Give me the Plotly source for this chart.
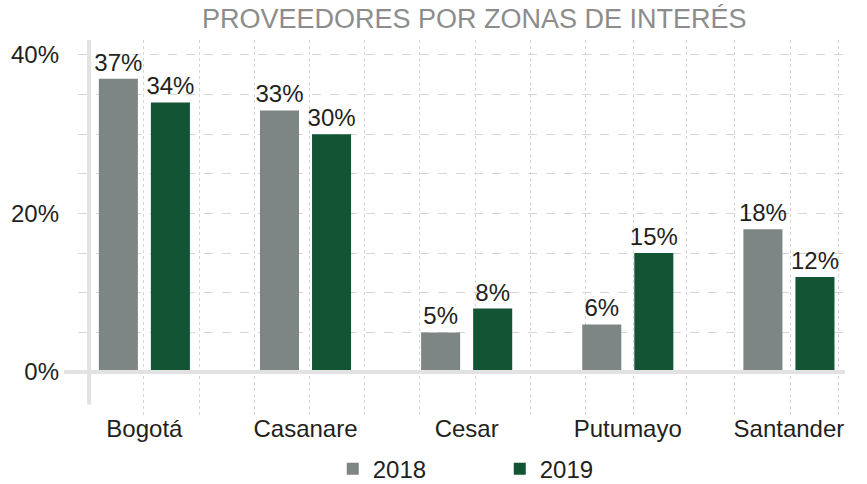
import plotly.graph_objects as go

# Share of suppliers per zone of interest, by year (%)
zonas = ["Bogotá", "Casanare", "Cesar", "Putumayo", "Santander"]
valores_2018 = [37, 33, 5, 6, 18]
valores_2019 = [34, 30, 8, 15, 12]
etiquetas_y = ["0%", "20%", "40%"]
valores_eje_y = [0, 20, 40]

color_2018 = "#7e8585"
color_2019 = "#135434"
color_texto = "#231f20"
color_rejilla = "#d6d6d6"
color_ejes = "#e2e2e2"
fuente = "Liberation Sans, Arial, sans-serif"

# decorative vertical dotted grid (overlay axis in pixel-like units)
rejilla_vertical = [143, 199, 254, 309, 364, 419, 475, 530, 585, 633, 686, 734, 790, 838]

pos = list(range(len(zonas)))

fig = go.Figure()
fig.add_trace(go.Bar(
    x=pos, y=valores_2018, name="2018",
    marker=dict(color=color_2018, line=dict(width=0)),
    text=[f"{v}%" for v in valores_2018], textposition="outside",
    constraintext="none", cliponaxis=False,
    textfont=dict(size=24, color=color_texto, family=fuente),
))
fig.add_trace(go.Bar(
    x=pos, y=valores_2019, name="2019",
    marker=dict(color=color_2019, line=dict(width=0)),
    text=[f"{v}%" for v in valores_2019], textposition="outside",
    constraintext="none", cliponaxis=False,
    textfont=dict(size=24, color=color_texto, family=fuente),
))
# carrier for the overlay grid axis
fig.add_trace(go.Scatter(x=[], y=[], xaxis="x2", showlegend=False, hoverinfo="skip"))

fig.update_layout(
    width=867, height=484,
    margin=dict(l=78, r=17, t=40, b=484 - 418, autoexpand=False),
    paper_bgcolor="white", plot_bgcolor="white",
    font=dict(family=fuente, size=24, color=color_texto),
    title=dict(
        text="PROVEEDORES POR ZONAS DE INTERÉS",
        x=0.547, xanchor="center", y=0.962, yanchor="middle",
        font=dict(size=27, color="#8c8c8c", family=fuente),
    ),
    barmode="group", bargap=0.354, bargroupgap=0.25,
    showlegend=True,
    legend=dict(
        orientation="h", x=0.33, xanchor="left", y=-0.135, yanchor="middle",
        font=dict(size=24, color=color_texto), entrywidth=122, itemwidth=30,
        traceorder="normal", bgcolor="rgba(0,0,0,0)",
    ),
    xaxis=dict(
        range=[-0.412, 4.379], tickvals=pos, ticktext=zonas,
        showgrid=False, zeroline=False, showline=False, ticks="",
        ticklabelstandoff=-6,
        tickfont=dict(size=24, color=color_texto), automargin=False,
    ),
    xaxis2=dict(
        overlaying="x", range=[78, 850], tickvals=rejilla_vertical,
        showticklabels=False, ticks="", showgrid=True,
        gridcolor=color_rejilla, griddash="dot", gridwidth=1,
        zeroline=False, showline=False, side="top", automargin=False,
    ),
    yaxis=dict(
        range=[-5.8, 41.88], tickvals=valores_eje_y, ticktext=etiquetas_y,
        showgrid=True, gridcolor=color_rejilla, griddash="dash", gridwidth=1,
        zeroline=False, showline=False, ticks="", ticklabelstandoff=18,
        tickfont=dict(size=24, color=color_texto), automargin=False,
        minor=dict(tickvals=[5, 10, 15, 25, 30, 35], showgrid=True,
                   gridcolor=color_rejilla, griddash="dash", gridwidth=1),
    ),
    shapes=[
        # horizontal baseline
        dict(type="line", xref="paper", yref="y", x0=-0.018, x1=0.9935, y0=0, y1=0,
             line=dict(color=color_ejes, width=4), layer="above"),
        # vertical axis line
        dict(type="line", xref="paper", yref="y", x0=0.0143, x1=0.0143, y0=-4.1, y1=42.5,
             line=dict(color=color_ejes, width=4), layer="above"),
    ],
)

fig.write_html("out.html")
